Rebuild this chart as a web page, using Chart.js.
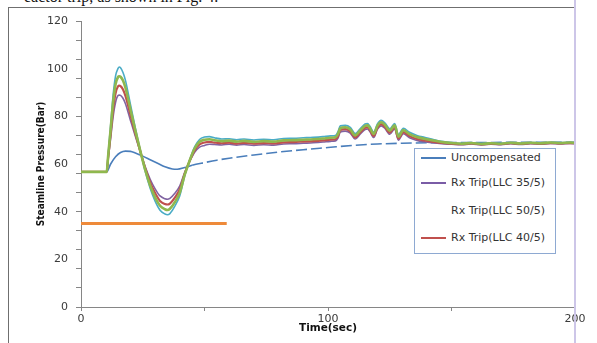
<!DOCTYPE html>
<html>
<head>
<meta charset="utf-8">
<script src="https://cdn.jsdelivr.net/npm/chart.js@4.4.1/dist/chart.umd.min.js"></script>
<style>
  html, body { margin: 0; padding: 0; background: #fff; }
  body { width: 597px; height: 343px; position: relative; overflow: hidden; }
  #c { position: absolute; left: 0; top: 0; }
  .frameL { position: absolute; left: 8px; top: 7px; width: 1px; height: 336px; background: #6f6f6f; }
  .frameT { position: absolute; left: 8px; top: 7px; width: 567px; height: 1px; background: #6f6f6f; }
  .frameR { position: absolute; left: 574px; top: 0px; width: 2px; height: 343px; background: #cdc6e8; }
  .doc { position: absolute; left: 24px; top: -12px; font: 16px/17px "Liberation Serif", serif; color: #111; white-space: nowrap; }
  #legend { position: absolute; left: 414px; top: 148px; width: 140px; height: 104px; border: 1px solid #8ea9d2; background: #fff; }
  .li { position: absolute; left: 0; height: 14px; width: 140px; }
  .li .sw { position: absolute; left: 6px; top: 6px; width: 25px; height: 2px; }
  .li .tx { position: absolute; left: 36px; top: 0; font: 11px/14px "DejaVu Sans", sans-serif; color: #333; white-space: nowrap; }
</style>
</head>
<body>
<div class="doc">eactor trip, as shown in Fig. 4.</div>
<canvas id="c" width="597" height="343"></canvas>
<div class="frameL"></div>
<div class="frameT"></div>
<div class="frameR"></div>
<div id="legend"></div>
<script>
// ---- data ----
const tripTime = [0, 10.4, 11, 12, 13, 14, 15, 15.5, 16, 17,
  18, 20, 22, 24, 26, 28, 30, 32, 34, 35,
  36, 38, 40, 42, 44, 46, 48, 50, 52, 54,
  57, 60, 63, 66, 70, 74, 78, 82, 86, 90,
  94, 98, 101, 103, 104, 105, 107, 109, 111, 113,
  115, 116, 117, 118.5, 120, 121.5, 123, 125, 127, 128.5,
  130.5, 133, 136, 139, 142, 146, 150, 154, 158, 162,
  166, 170, 174, 178, 182, 186, 190, 194, 198, 200];

const greenValues = [56.7, 56.7, 63.5, 74.5, 86, 93.5, 96.5, 96.8, 96.6, 95,
  92, 83, 74, 65.5, 57.5, 51, 46, 42.5, 41, 40.7,
  41.2, 44, 48, 55.5, 61.5, 66.5, 69.3, 70.2, 70.4, 70,
  69.6, 69.8, 69.4, 69.7, 69.3, 69.6, 69.4, 69.9, 70, 70.2,
  70.4, 70.7, 71, 71.2, 72.5, 75, 75.4, 74.5, 72, 74,
  76, 76.2, 75, 72.6, 76, 77.5, 76.5, 74, 76.2, 71.5,
  74.2, 72.5, 71.3, 70.6, 70, 69.2, 68.8, 68.5, 68.8, 68.4,
  68.7, 68.5, 68.9, 68.6, 68.9, 68.7, 69, 68.8, 69, 68.9];

const cyanValues = [56.7, 56.7, 64.2, 76.3, 88.9, 97, 100.1, 100.7, 100.4, 98.4,
  95.1, 85.1, 75.1, 65.7, 56.9, 49.8, 44.4, 40.6, 39, 38.7,
  39.2, 42.3, 46.7, 55.1, 61.7, 67.2, 70.3, 71.3, 71.5, 71,
  70.5, 70.6, 70.2, 70.5, 70.1, 70.4, 70.2, 70.7, 70.8, 71,
  71.2, 71.5, 71.8, 72, 73.5, 76, 76.2, 75.4, 72.8, 74.8,
  76.8, 77, 75.8, 73.4, 76.8, 78.3, 77.3, 74.8, 77, 72.3,
  75, 73.3, 72, 71.2, 70.5, 69.5, 69, 68.7, 69, 68.6,
  68.9, 68.7, 69, 68.8, 69, 68.9, 69.1, 69, 69.1, 69];

const redValues = [56.7, 56.7, 62.8, 72.6, 82.9, 89.7, 92.6, 92.9, 92.7, 91.3,
  88.6, 80.7, 72.8, 65.3, 58.2, 52.3, 47.8, 44.5, 43.2, 43,
  43.4, 45.9, 49.4, 56, 61.3, 65.7, 68.2, 69, 69.3, 69,
  68.7, 69, 68.5, 68.9, 68.5, 68.8, 68.6, 69.1, 69.2, 69.4,
  69.6, 69.9, 70.2, 70.4, 71.6, 74.2, 74.6, 73.7, 71.2, 73.2,
  75.2, 75.4, 74.2, 71.8, 75.2, 76.7, 75.7, 73.2, 75.4, 70.7,
  73.4, 71.7, 70.5, 69.9, 69.4, 68.8, 68.5, 68.3, 68.6, 68.2,
  68.5, 68.3, 68.7, 68.4, 68.7, 68.5, 68.8, 68.6, 68.8, 68.7];

const purpleValues = [56.7, 56.7, 62.1, 70.7, 79.8, 85.9, 88.7, 88.9, 88.8, 87.6,
  85.3, 78.4, 71.6, 65.1, 58.8, 53.6, 49.6, 46.6, 45.4, 45.2,
  45.6, 47.7, 50.8, 56.5, 61.1, 64.9, 67.1, 67.8, 68.3, 68.2,
  68, 68.3, 67.9, 68.2, 67.8, 68.1, 67.9, 68.4, 68.5, 68.7,
  68.9, 69.2, 69.5, 69.7, 70.8, 73.4, 73.8, 73, 70.5, 72.5,
  74.5, 74.7, 73.5, 71.1, 74.5, 76, 75, 72.5, 74.7, 70,
  72.7, 71, 69.9, 69.3, 68.9, 68.5, 68.3, 68.1, 68.4, 68,
  68.3, 68.1, 68.5, 68.2, 68.5, 68.3, 68.6, 68.4, 68.6, 68.5];

const uncompTime = [0, 10.4, 12, 14, 16, 18, 20, 22, 25, 28,
  31, 34, 37, 39, 42, 45, 50, 55, 60, 70,
  80, 90, 100, 110, 120, 130, 140, 160, 180, 200];
const uncompValues = [56.7, 56.7, 60, 63, 64.8, 65.4, 65.3, 64.6, 63.3, 61.8,
  60.3, 58.8, 57.9, 57.8, 58.5, 59.5, 60.6, 61.6, 62.4, 63.8,
  65, 66, 66.9, 67.8, 68.4, 68.7, 68.9, 69, 69.1, 69.1];

const limitTime = [0, 59];
const limitValues = [35, 35];

const xTickValues = [0, 50, 100, 150, 200];
const xTickLabels = ['0', '', '100', '', '200'];
const yMinorTicks = [0, 8, 16, 24, 32, 40, 48, 56, 64, 72, 80, 88, 96, 104, 112, 120];
const yTickLabels = [0, 20, 40, 60, 80, 100, 120];

const legendLabels = ['Uncompensated', 'Rx Trip(LLC 35/5)', 'Rx Trip(LLC 50/5)', 'Rx Trip(LLC 40/5)'];
const legendColors = ['#4a7ebb', '#7a5ca6', null, '#c0504d'];

// ---- build ----
const pts = (xs, ys) => xs.map((x, i) => ({ x: x, y: ys[i] }));
const AXIS = '#868686';

const datasets = [
  { label: 'Rx Trip green', data: pts(tripTime, greenValues), borderColor: '#8fb84e', borderWidth: 2.6, order: 1 },
  { label: 'Rx Trip(LLC 40/5)', data: pts(tripTime, redValues), borderColor: '#c0504d', borderWidth: 2.2, order: 2 },
  { label: 'Rx Trip cyan', data: pts(tripTime, cyanValues), borderColor: '#4bacc6', borderWidth: 1.6, order: 3 },
  { label: 'Rx Trip(LLC 35/5)', data: pts(tripTime, purpleValues), borderColor: '#8064a2', borderWidth: 1.6, order: 4 },
  { label: 'Uncompensated', data: pts(uncompTime, uncompValues), borderColor: '#4a7ebb', borderWidth: 1.6, order: 5,
    segment: { borderDash: c => (c.p0.parsed.x >= 44 ? [11, 4] : undefined) } },
  { label: 'Limit', data: pts(limitTime, limitValues), borderColor: '#ee8a3a', borderWidth: 3, order: 6, cubicInterpolationMode: 'default', tension: 0 }
].map(d => Object.assign({ pointRadius: 0, fill: false, cubicInterpolationMode: 'monotone' }, d));

new Chart(document.getElementById('c'), {
  type: 'line',
  data: { datasets: datasets },
  options: {
    responsive: false,
    animation: false,
    devicePixelRatio: 1,
    layout: { padding: { left: 0, right: 22, top: 21, bottom: 0 } },
    plugins: { legend: { display: false }, tooltip: { enabled: false } },
    scales: {
      x: {
        type: 'linear', min: 0, max: 200,
        afterBuildTicks: s => { s.ticks = xTickValues.map(v => ({ value: v })); },
        afterFit: s => { s.height = 36; },
        ticks: {
          autoSkip: false, maxRotation: 0, padding: 2,
          color: '#3a3a3a', font: { family: 'DejaVu Sans', size: 11 },
          callback: (v) => xTickLabels[xTickValues.indexOf(v)]
        },
        grid: { drawOnChartArea: false, tickLength: 4, color: AXIS },
        border: { color: AXIS, width: 1 },
        title: { display: true, text: 'Time(sec)', color: '#111',
          font: { family: 'DejaVu Sans', size: 10.5, weight: 'bold' }, padding: { top: 0, bottom: 8 } }
      },
      y: {
        type: 'linear', min: 0, max: 120,
        afterBuildTicks: s => {
          const vals = Array.from(new Set(yMinorTicks.concat(yTickLabels))).sort((a, b) => a - b);
          s.ticks = vals.map(v => ({ value: v }));
        },
        afterFit: s => { s.width = 81; },
        ticks: {
          autoSkip: false, padding: 8,
          color: '#3a3a3a', font: { family: 'DejaVu Sans', size: 11 },
          callback: (v) => (yTickLabels.indexOf(v) >= 0 ? String(v) : '')
        },
        grid: {
          drawOnChartArea: false, tickLength: 5,
          tickColor: c => (c.tick && yMinorTicks.indexOf(c.tick.value) >= 0 ? AXIS : 'rgba(0,0,0,0)')
        },
        border: { color: AXIS, width: 1 },
        title: { display: true, text: 'Steamline Pressure(Bar)', color: '#111',
          font: { family: 'DejaVu Sans Condensed', size: 10, weight: 'bold' }, padding: { top: 35, bottom: 0 } }
      }
    }
  }
});

// legend (as in reference: 4 entries, the third with no visible line)
const lg = document.getElementById('legend');
const rowTops = [2, 27, 55, 82];
legendLabels.forEach((t, i) => {
  const row = document.createElement('div');
  row.className = 'li';
  row.style.top = rowTops[i] + 'px';
  const sw = document.createElement('div');
  sw.className = 'sw';
  sw.style.background = legendColors[i] || 'transparent';
  const tx = document.createElement('div');
  tx.className = 'tx';
  tx.textContent = t;
  row.appendChild(sw); row.appendChild(tx);
  lg.appendChild(row);
});
</script>
</body>
</html>
